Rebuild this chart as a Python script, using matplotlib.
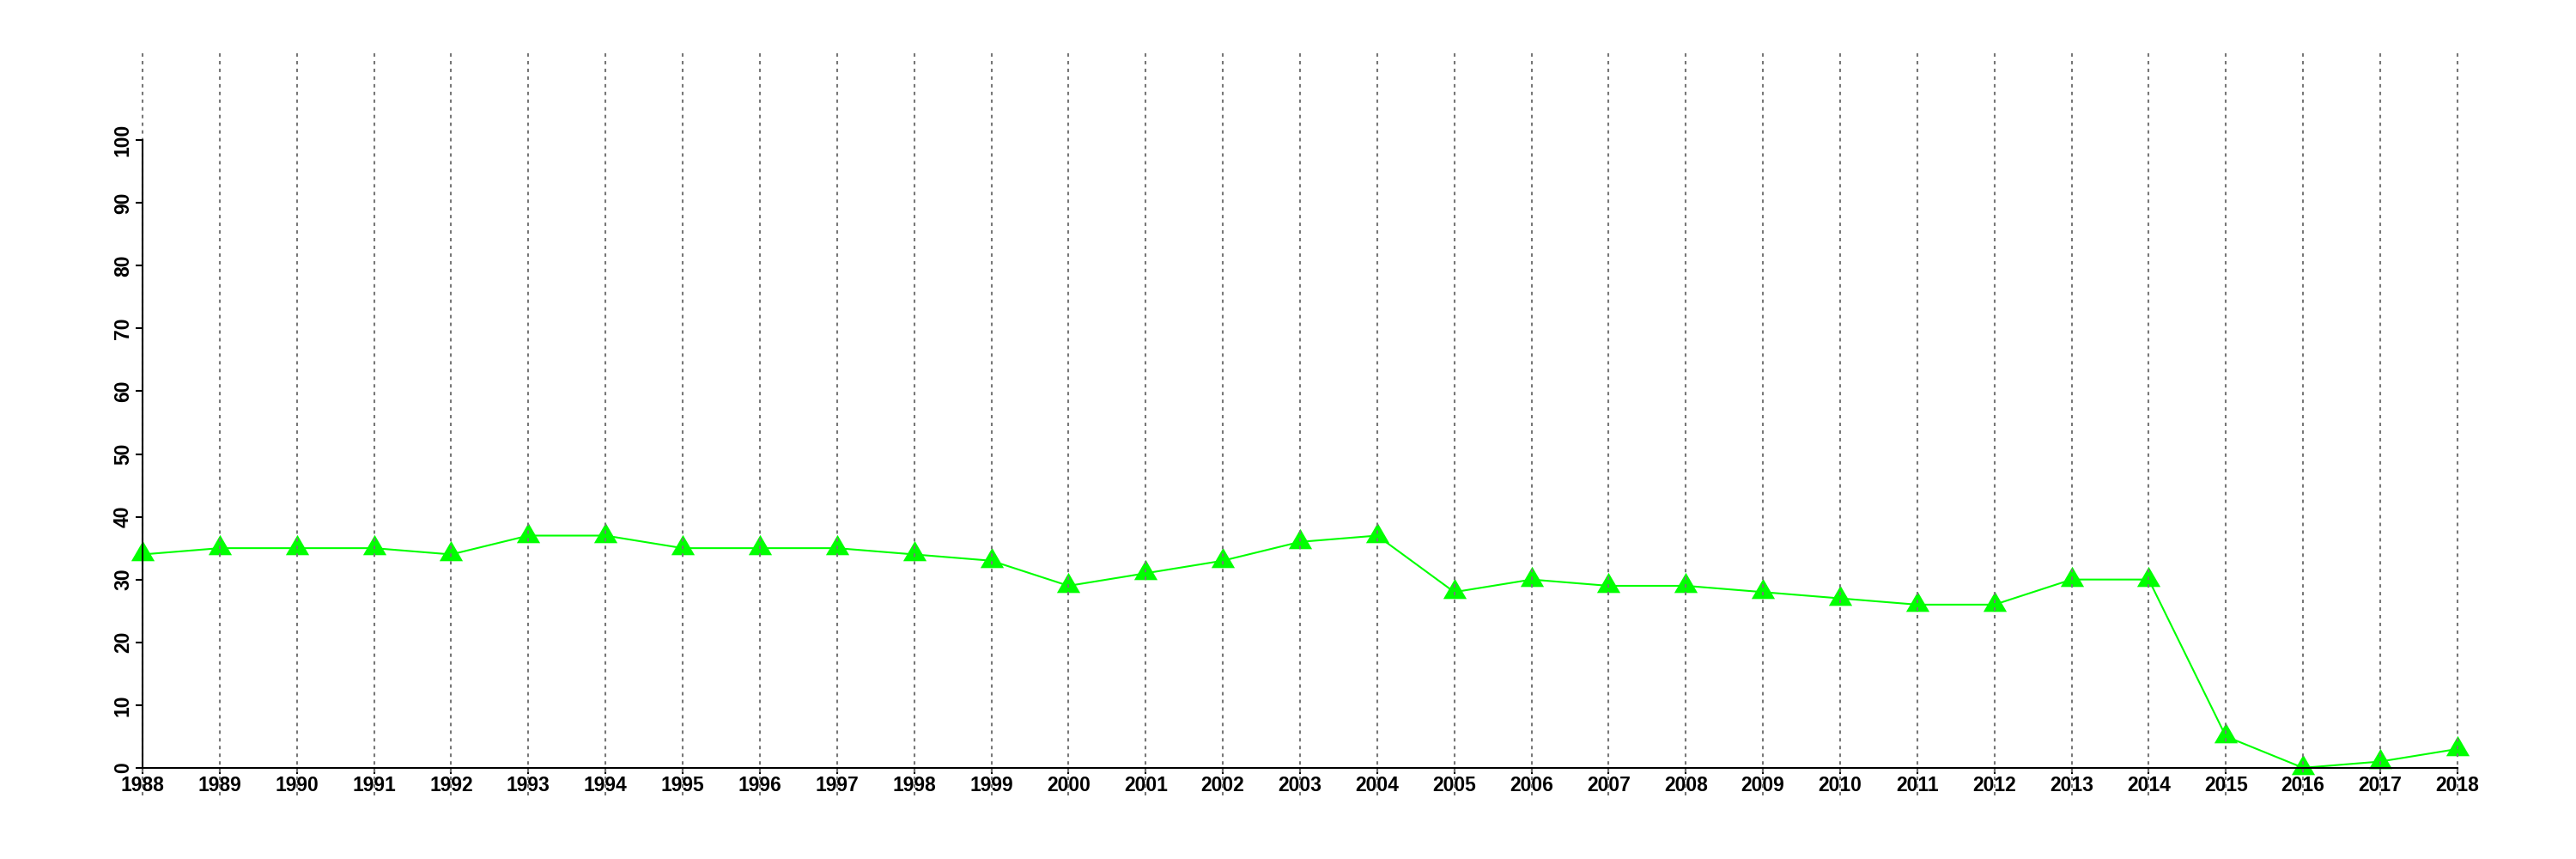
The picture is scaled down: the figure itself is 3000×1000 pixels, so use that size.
import matplotlib
matplotlib.use("Agg")
import matplotlib.pyplot as plt
import numpy as np

years = list(range(1988, 2019))
values = [34, 35, 35, 35, 34, 37, 37, 35, 35, 35, 34, 33, 29, 31, 33, 36, 37,
          28, 30, 29, 29, 28, 27, 26, 26, 30, 30, 5, 0, 1, 3]
y_ticks = [0, 10, 20, 30, 40, 50, 60, 70, 80, 90, 100]

plt.rcParams['font.family'] = ['Liberation Sans', 'DejaVu Sans']

fig = plt.figure(figsize=(30, 10), dpi=100)
ax = fig.add_axes([0.0194, 0.074, 0.9705, 0.868])

ax.set_xlim(1986.8, 2019.2)
ax.set_ylim(-4.4, 114.4)

tri = [(0, 1), (0.87, -0.5), (-0.87, -0.5), (0, 1)]
ax.plot(years, values, color='#00FF00', lw=1.5, marker=tri, markersize=22.5,
        markerfacecolor='#00FF00', markeredgewidth=0, zorder=2)

for yr in years:
    ax.axvline(yr, color='#777777', lw=1.5, linestyle=(0, (1.9, 2.4)), zorder=3)

for s in ['top', 'right']:
    ax.spines[s].set_visible(False)
ax.spines['left'].set_position(('data', 1988))
ax.spines['left'].set_bounds(0, 100)
ax.spines['bottom'].set_position(('data', 0))
ax.spines['bottom'].set_bounds(1988, 2018)
for s in ['left', 'bottom']:
    ax.spines[s].set_linewidth(1.5)
    ax.spines[s].set_zorder(4)

ax.set_xticks(years)
ax.set_xticklabels([str(y) for y in years])
ax.set_yticks(y_ticks)
ax.set_yticklabels([str(v) for v in y_ticks], rotation=90, va='center')
ax.tick_params(axis='x', length=5, width=1.5, pad=1.5, labelsize=16.5)
ax.tick_params(axis='y', length=6, width=1.5, pad=2, labelsize=16.5)
for lab in ax.get_xticklabels() + ax.get_yticklabels():
    lab.set_fontweight('bold')

fig.savefig('out.png', dpi=100, facecolor='white')
